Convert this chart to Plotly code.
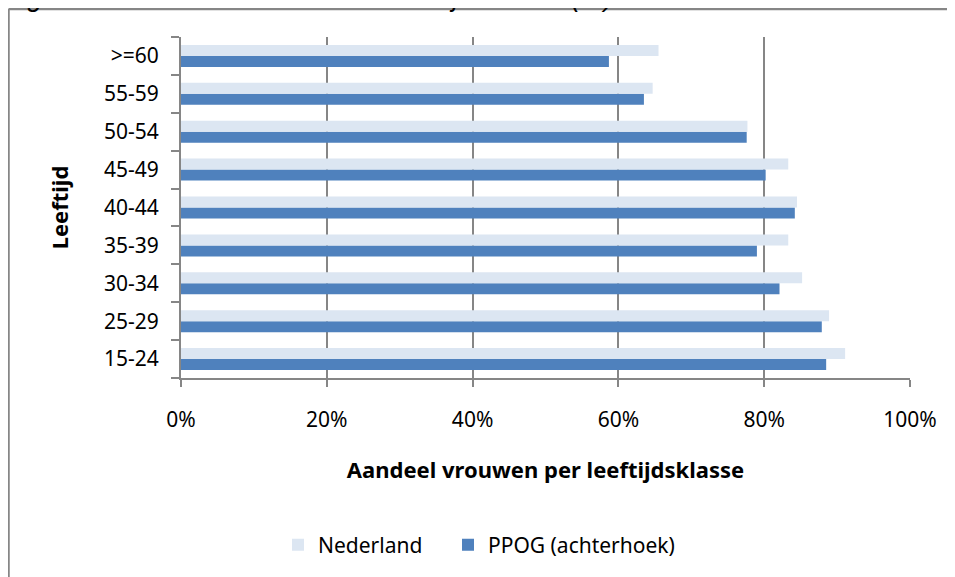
import plotly.graph_objects as go

categories = ["15-24", "25-29", "30-34", "35-39", "40-44", "45-49", "50-54", "55-59", ">=60"]
nederland = [0.911, 0.889, 0.852, 0.833, 0.845, 0.833, 0.777, 0.647, 0.655]
ppog = [0.885, 0.879, 0.821, 0.790, 0.842, 0.802, 0.776, 0.635, 0.587]
x_ticks = [0, 0.2, 0.4, 0.6, 0.8, 1.0]
x_tick_labels = ["0%", "20%", "40%", "60%", "80%", "100%"]

GRAY = "#868686"
FONT = "Noto Sans"
OFF = 8  # page body margin

fig = go.Figure()
fig.add_trace(go.Bar(y=categories, x=ppog, name="PPOG (achterhoek)", orientation="h",
                     legend="legend2",
                     marker=dict(color="#4F81BD", line=dict(width=0))))
fig.add_trace(go.Bar(y=categories, x=nederland, name="Nederland", orientation="h",
                     legend="legend",
                     marker=dict(color="#DCE6F2", line=dict(width=0))))

W, H = 955 - OFF, 577 - OFF
L, T = 181 - OFF, 37 - OFF
R = W - (910 - OFF)
B = H - (378 - OFF)
pw, ph = W - L - R, H - T - B

def px(xp):
    return (xp - OFF - L) / pw

def py(yp):
    return 1 - (yp - OFF - T) / ph

legend_font = dict(family=FONT, size=21, color="black")

fig.update_layout(
    width=W, height=H,
    margin=dict(l=L, r=R, t=T, b=B, pad=0),
    paper_bgcolor="white", plot_bgcolor="white",
    barmode="group", bargap=0.42, bargroupgap=0,
    font=dict(family=FONT, size=21, color="black"),
    showlegend=True,
    legend=dict(orientation="h", x=px(278), xanchor="left",
                y=py(545), yanchor="middle", font=legend_font, bgcolor="rgba(0,0,0,0)"),
    legend2=dict(orientation="h", x=px(448), xanchor="left",
                 y=py(545), yanchor="middle", font=legend_font, bgcolor="rgba(0,0,0,0)"),
    xaxis=dict(range=[0, 1], tickvals=x_ticks, ticktext=x_tick_labels,
               showgrid=True, gridcolor=GRAY, gridwidth=2,
               showline=True, linecolor=GRAY, linewidth=2,
               ticks="outside", ticklen=7, tickwidth=2, tickcolor=GRAY,
               ticklabelstandoff=15, zeroline=False,
               tickfont=dict(family=FONT, size=21),
               title=dict(text="<b>Aandeel vrouwen per leeftijdsklasse</b>", standoff=30,
                          font=dict(family=FONT, size=22))),
    yaxis=dict(type="category", categoryorder="array", categoryarray=categories,
               showgrid=False, showline=True, linecolor=GRAY, linewidth=2,
               ticks="outside", tickson="boundaries", ticklen=8, tickwidth=2, tickcolor=GRAY,
               ticklabelstandoff=16,
               tickfont=dict(family=FONT, size=21),
               title=dict(text="<b>Leeftijd</b>", standoff=29,
                          font=dict(family=FONT, size=22))),
    shapes=[
        dict(type="line", xref="paper", yref="paper", x0=px(8.5), x1=px(8.5), y0=py(9), y1=py(600),
             line=dict(color=GRAY, width=2.5)),
        dict(type="line", xref="paper", yref="paper", x0=px(8.5), x1=px(970), y0=py(9), y1=py(9),
             line=dict(color=GRAY, width=2.5)),
    ],
    annotations=[
        dict(text="<i>Figuur 5: Aandeel vrouwen naar leeftijdsklasse (%)</i>", xref="paper", yref="paper",
             x=px(3), xanchor="left", y=py(14), yanchor="bottom", showarrow=False,
             font=dict(family="Liberation Sans", size=27, color="black")),
    ],
)

fig.write_html("out.html")
